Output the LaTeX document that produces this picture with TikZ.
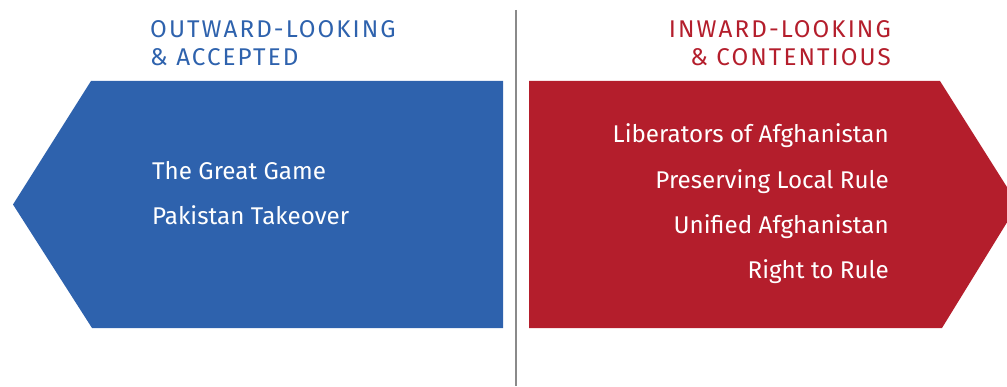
\documentclass[tikz,border=0pt]{standalone}
\usepackage{fontspec}
\setmainfont{Fira Sans}
\newfontfamily\headfont[LetterSpace=8.5]{Fira Sans}
\definecolor{oblue}{HTML}{2E62AD}
\definecolor{ired}{HTML}{B41E2C}
\definecolor{divgray}{HTML}{8A8A8A}
\begin{document}
\begin{tikzpicture}[x=1pt,y=1pt,
  head/.style={inner sep=0pt,font=\headfont\fontsize{24.2}{24.2}\selectfont},
  body/.style={inner sep=0pt,text=white,font=\fontsize{24.2}{24.2}\selectfont}]
\useasboundingbox (0,0) rectangle (1007,386);
\clip (0,0) rectangle (1007,386);
\fill[oblue] (13,181.5) -- (91,305) -- (503,305) -- (503,58) -- (92,58) -- cycle;
\fill[ired] (529,305) -- (940,305) -- (1018,181.5) -- (942,58) -- (529,58) -- cycle;
\coordinate (dtop) at (516,376);
\coordinate (dbot) at (516,0);
\draw[divgray,line width=1.2pt] (dtop) -- (dbot);
\node[head,text=oblue,anchor=base west] (h1a) at (150,348) {OUTWARD-LOOKING};
\node[head,text=oblue,anchor=base west] (h1b) at (150,320) {\&\ ACCEPTED};
\node[head,text=ired,anchor=base east] (h2a) at (891,348) {INWARD-LOOKING};
\node[head,text=ired,anchor=base east] (h2b) at (891,320) {\&\ CONTENTIOUS};
\node[body,anchor=base west] (b1) at (152,206) {The Great Game};
\node[body,anchor=base west] (b2) at (152,161) {Pakistan Takeover};
\node[body,anchor=base east] (r1) at (889,243) {Liberators of Afghanistan};
\node[body,anchor=base east] (r2) at (889,197) {Preserving Local Rule};
\node[body,anchor=base east] (r3) at (889,152) {Unified Afghanistan};
\node[body,anchor=base east] (r4) at (889,107) {Right to Rule};
\end{tikzpicture}
\end{document}
